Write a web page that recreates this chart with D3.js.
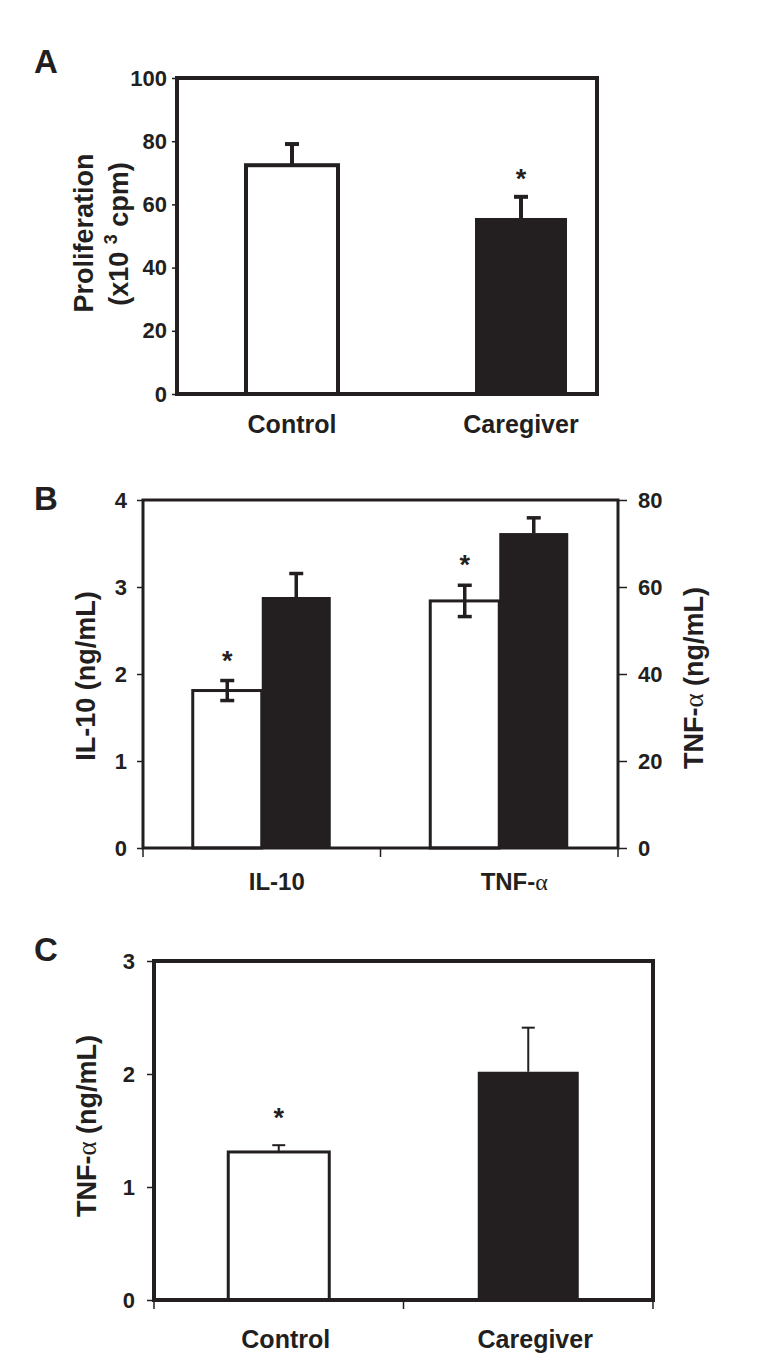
<!DOCTYPE html>
<html>
<head>
<meta charset="utf-8">
<script src="https://cdn.jsdelivr.net/npm/d3@7.9.0/dist/d3.min.js"></script>
<style>
  body { margin: 0; background: #fff; }
  svg text { font-family: 'Liberation Sans', Arial, sans-serif; font-weight: bold; fill: #231f20; }
</style>
</head>
<body>
<div id="chart"></div>
<script>
// Panel A: proliferation
const aGroups = ['Control', 'Caregiver'];
const aMeans = [72.4, 55.7];
const aErrors = [6.7, 6.7];
const aStars = [false, true];
const aTicks = [0, 20, 40, 60, 80, 100];

// Panel B: IL-10 (left axis) and TNF-alpha (right axis)
const bCytokines = ['IL-10', 'TNF-α'];
const bControlMeans = [1.81, 56.8];
const bControlErrors = [0.115, 3.6];
const bCaregiverMeans = [2.885, 72.4];
const bCaregiverErrors = [0.27, 3.5];
const bStars = [true, true];
const bLeftTicks = [0, 1, 2, 3, 4];
const bRightTicks = [0, 20, 40, 60, 80];

// Panel C: TNF-alpha
const cGroups = ['Control', 'Caregiver'];
const cMeans = [1.31, 2.02];
const cErrors = [0.06, 0.39];
const cStars = [true, false];
const cTicks = [0, 1, 2, 3];

const ink = '#231f20';
const fmt = d3.format('d');
const svg = d3.select('#chart').append('svg')
  .attr('width', 757).attr('height', 1370);
svg.append('rect').attr('width', 757).attr('height', 1370).attr('fill', '#fff');

function styleAxis(g, size) {
  g.select('.domain').remove();
  g.selectAll('line').attr('stroke', ink).attr('stroke-width', 1.5);
  g.selectAll('text').attr('font-size', size).attr('fill', ink)
    .attr('font-family', "'Liberation Sans', Arial, sans-serif").attr('font-weight', 'bold');
}

function frame(x0, x1, y0, y1, w) {
  svg.append('rect')
    .attr('x', x0).attr('y', y1).attr('width', x1 - x0).attr('height', y0 - y1)
    .attr('fill', 'none').attr('stroke', ink).attr('stroke-width', w);
}

function bar(x, w, y, y0, filled, sw) {
  svg.append('rect')
    .attr('x', x).attr('y', y).attr('width', w).attr('height', y0 - y)
    .attr('fill', filled ? ink : '#fff')
    .attr('stroke', filled ? 'none' : ink).attr('stroke-width', sw);
}

function errBar(cx, yMid, yTop, yBot, capW, sw) {
  const g = svg.append('g').attr('stroke', ink).attr('stroke-width', sw);
  g.append('line').attr('x1', cx).attr('x2', cx).attr('y1', yTop).attr('y2', yBot);
  g.append('line').attr('x1', cx - capW / 2).attr('x2', cx + capW / 2).attr('y1', yTop).attr('y2', yTop);
  if (yBot > yMid) {
    g.append('line').attr('x1', cx - capW / 2).attr('x2', cx + capW / 2).attr('y1', yBot).attr('y2', yBot);
  }
}

function star(cx, y) {
  svg.append('text').attr('x', cx).attr('y', y).attr('text-anchor', 'middle')
    .attr('font-size', 27).text('*');
}

function rotLabel(x, y, size) {
  return svg.append('text')
    .attr('transform', `translate(${x},${y}) rotate(-90)`)
    .attr('text-anchor', 'middle').attr('font-size', size);
}

function panelLetter(x, y, t) {
  svg.append('text').attr('x', x).attr('y', y).attr('font-size', 33).text(t);
}

// ---------- Panel A ----------
const yA = d3.scaleLinear().domain([0, 100]).range([394, 78]);
const xA = d3.scalePoint().domain(aGroups).range([292, 521]);
const aBarW = 92;

aGroups.forEach((grp, i) => {
  const cx = xA(grp);
  bar(cx - aBarW / 2, aBarW, yA(aMeans[i]), yA(0), i === 1, 4);
  errBar(cx, yA(aMeans[i]), yA(aMeans[i] + aErrors[i]), yA(aMeans[i]), 14, 4);
  if (aStars[i]) star(cx, yA(aMeans[i] + aErrors[i]) - 9);
  svg.append('text').attr('x', cx).attr('y', 433).attr('text-anchor', 'middle')
    .attr('font-size', 25).text(grp);
});
frame(177, 597, 394, 78, 4);
svg.append('g').attr('transform', 'translate(177,0)')
  .call(d3.axisLeft(yA).tickValues(aTicks).tickFormat(fmt).tickSize(5).tickPadding(5))
  .call(g => styleAxis(g, 22));

rotLabel(93, 233, 27).text('Proliferation');
const aLab2 = rotLabel(128, 234, 27);
aLab2.append('tspan').text('(x10 ');
aLab2.append('tspan').attr('dy', -11).attr('font-size', 18).text('3');
aLab2.append('tspan').attr('dy', 11).text(' cpm)');
panelLetter(34, 73, 'A');

// ---------- Panel B ----------
const yL = d3.scaleLinear().domain([0, 4]).range([848, 500]);
const yR = d3.scaleLinear().domain([0, 80]).range([848, 500]);
const xB = d3.scaleBand().domain(bCytokines).range([143, 618]);
const bBarW = 69;

bCytokines.forEach((c, i) => {
  const y = i === 0 ? yL : yR;
  const cx = xB(c) + xB.bandwidth() / 2;
  // control (white)
  const wm = bControlMeans[i], we = bControlErrors[i];
  bar(cx - bBarW, bBarW, y(wm), y(0), false, 3);
  // caregiver (black)
  const km = bCaregiverMeans[i], ke = bCaregiverErrors[i];
  bar(cx, bBarW, y(km), y(0), true, 0);
  errBar(cx - bBarW / 2, y(wm), y(wm + we), y(wm - we), 14, 3.5);
  errBar(cx + bBarW / 2, y(km), y(km + ke), y(km), 14, 3.5);
  if (bStars[i]) star(cx - bBarW / 2, y(wm + we) - 11);
  const lab = svg.append('text').attr('x', cx + 15).attr('y', 890)
    .attr('text-anchor', 'middle').attr('font-size', 24);
  if (c === 'TNF-α') {
    lab.append('tspan').text('TNF-');
    lab.append('tspan').attr('font-family', "'Liberation Serif', 'DejaVu Serif', serif")
      .attr('font-weight', 'normal').text('α');
  } else {
    lab.text(c);
  }
});
frame(143, 618, 848, 500, 3);
svg.append('g').attr('transform', 'translate(143,0)')
  .call(d3.axisLeft(yL).tickValues(bLeftTicks).tickFormat(fmt).tickSize(6).tickPadding(10))
  .call(g => styleAxis(g, 22));
svg.append('g').attr('transform', 'translate(618,0)')
  .call(d3.axisRight(yR).tickValues(bRightTicks).tickFormat(fmt).tickSize(9).tickPadding(11))
  .call(g => styleAxis(g, 22));

// category boundary ticks on the bottom axis
const bEdges = [xB.range()[0]].concat(bCytokines.map(c => xB(c) + xB.bandwidth()));
svg.append('g').selectAll('line').data(bEdges).join('line')
  .attr('x1', d => d).attr('x2', d => d).attr('y1', 848).attr('y2', 857)
  .attr('stroke', ink).attr('stroke-width', 1.5);

rotLabel(95, 676, 27).text('IL-10 (ng/mL)');
const bRight = rotLabel(703, 678, 27);
bRight.append('tspan').text('TNF-');
bRight.append('tspan').attr('font-family', "'Liberation Serif', 'DejaVu Serif', serif")
  .attr('font-weight', 'normal').text('α');
bRight.append('tspan').text(' (ng/mL)');
panelLetter(34, 510, 'B');

// ---------- Panel C ----------
const yC = d3.scaleLinear().domain([0, 3]).range([1300, 961]);
const xC = d3.scaleBand().domain(cGroups).range([154, 653]);
const cBarW = 101;

cGroups.forEach((grp, i) => {
  const cx = xC(grp) + xC.bandwidth() / 2;
  bar(cx - cBarW / 2, cBarW, yC(cMeans[i]), yC(0), i === 1, 3);
  errBar(cx, yC(cMeans[i]), yC(cMeans[i] + cErrors[i]), yC(cMeans[i]), 13, 2);
  if (cStars[i]) star(cx, yC(cMeans[i] + cErrors[i]) - 18);
  svg.append('text').attr('x', cx + 7).attr('y', 1348).attr('text-anchor', 'middle')
    .attr('font-size', 25).text(grp);
});
frame(154, 653, 1300, 961, 4);
svg.append('g').attr('transform', 'translate(154,0)')
  .call(d3.axisLeft(yC).tickValues(cTicks).tickFormat(fmt).tickSize(7).tickPadding(12))
  .call(g => styleAxis(g, 22));
const cEdges = [xC.range()[0]].concat(cGroups.map(g => xC(g) + xC.bandwidth()));
svg.append('g').selectAll('line').data(cEdges).join('line')
  .attr('x1', d => d).attr('x2', d => d).attr('y1', 1300).attr('y2', 1309)
  .attr('stroke', ink).attr('stroke-width', 1.5);

const cLab = rotLabel(96, 1126, 27);
cLab.append('tspan').text('TNF-');
cLab.append('tspan').attr('font-family', "'Liberation Serif', 'DejaVu Serif', serif")
  .attr('font-weight', 'normal').text('α');
cLab.append('tspan').text(' (ng/mL)');
panelLetter(34, 961, 'C');
</script>
</body>
</html>
